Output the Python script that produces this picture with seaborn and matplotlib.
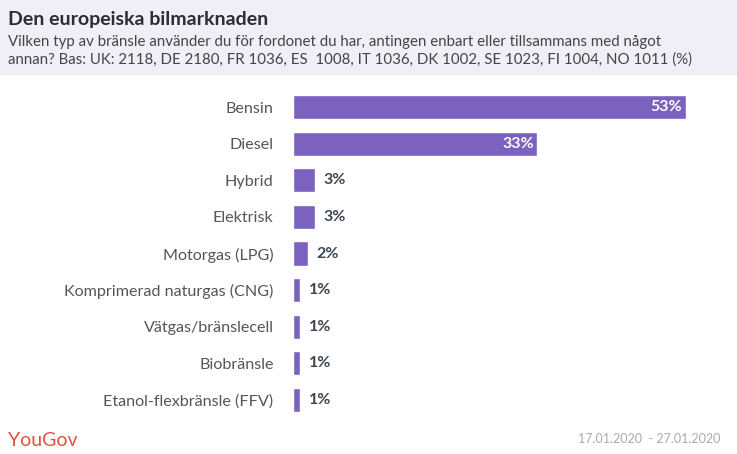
import matplotlib
matplotlib.use("Agg")
import matplotlib.pyplot as plt
import seaborn as sns
import pandas as pd

# ── Data ────────────────────────────────────────────────────────
categories = [
    "Bensin", "Diesel", "Hybrid", "Elektrisk", "Motorgas (LPG)",
    "Komprimerad naturgas (CNG)", "Vätgas/bränslecell", "Biobränsle",
    "Etanol-flexbränsle (FFV)",
]
shares = [53, 33, 3, 3, 2, 1, 1, 1, 1]

title = "Den europeiska bilmarknaden"
subtitle = ("Vilken typ av bränsle använder du för fordonet du har, antingen enbart eller tillsammans med något\n"
            "annan? Bas: UK: 2118, DE 2180, FR 1036, ES  1008, IT 1036, DK 1002, SE 1023, FI 1004, NO 1011 (%)")
date_range = "17.01.2020  - 27.01.2020"

BAR = "#7b62be"
df = pd.DataFrame({"kategori": categories, "andel": shares})

sns.set_theme(style="white")
plt.rcParams["font.family"] = ["Lato", "DejaVu Sans"]

W, H = 737, 454
fig = plt.figure(figsize=(W / 100, H / 100), dpi=100)

# header band
fig.patches.append(plt.Rectangle((0, 1 - 74 / H), 1, 74 / H, transform=fig.transFigure,
                                 color="#f0eef6", zorder=0))
fig.text(8 / W, 1 - 19 / H, title, fontsize=14, fontweight="bold", color="#2b2b3a", va="center")
fig.text(8 / W, 1 - 51 / H, subtitle, fontsize=10.8, color="#444444", va="center",
         linespacing=1.3)

ax = fig.add_axes([293 / W, 1 - 418.3 / H, (730 - 293) / W, 329.6 / H])
sns.barplot(data=df, x="andel", y="kategori", color=BAR, saturation=1, width=0.66, ax=ax)
ax.set_xlim(0, 59)
ax.set_ylim(len(categories) - 0.5, -0.5)
ax.set_xlabel("")
ax.set_ylabel("")
ax.set_xticks([])
sns.despine(ax=ax, left=True, bottom=True)
ax.tick_params(axis="y", length=0, pad=14, labelsize=11.6, labelcolor="#555555")

for i, v in enumerate(shares):
    if v >= 10:
        ax.text(v - 0.5, i, f"{v}%", ha="right", va="center", color="white",
                fontsize=11.5, fontweight="bold")
    else:
        ax.text(v + 1.1, i, f"{v}%", ha="left", va="center", color="#3c4650",
                fontsize=11.5, fontweight="bold")

fig.text(8 / W, 1 - 440 / H, "YouGov", fontsize=14, color="#e0533e", va="center")
fig.text(720 / W, 1 - 439 / H, date_range, fontsize=9, color="#aaaaaa", ha="right", va="center")

fig.savefig("out.png", dpi=100)
